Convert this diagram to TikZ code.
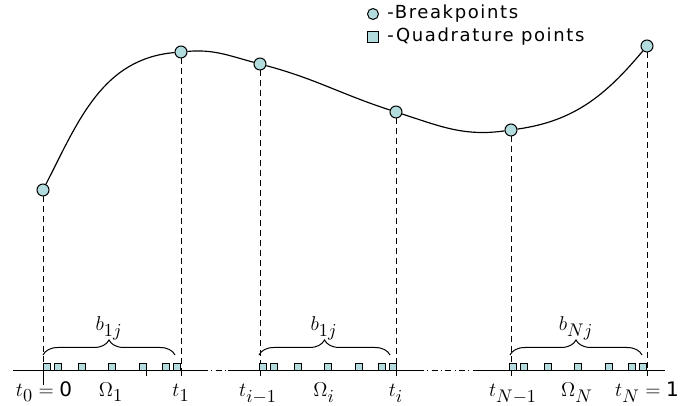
\documentclass[tikz,border=0pt]{standalone}
\usepackage{fontspec}
\setsansfont{DejaVu Sans}
\newfontfamily\legendfont[LetterSpace=9]{DejaVu Sans}
\usepackage{xcolor}
\usepackage{tikz}
\usetikzlibrary{decorations.pathreplacing}
\DeclareMathSizes{12}{12}{10.5}{8}
\definecolor{ptfill}{RGB}{178,220,222}

\begin{document}
\begin{tikzpicture}[
    x=0.6pt,y=0.6pt,
    font={\fontsize{12}{14}\selectfont},
    breakpt/.style={draw,circle,fill=ptfill,inner sep=0pt,minimum size=7.2pt,line width=0.6pt},
    quadpt/.style={draw,rectangle,fill=ptfill,inner sep=0pt,minimum size=4.2pt,line width=0.5pt},
    curve/.style={line width=0.7pt},
    guide/.style={line width=0.6pt,dash pattern=on 3.6pt off 2.4pt},
    axisline/.style={line width=0.6pt},
    gap/.style={line width=0.6pt,dash pattern=on 3.6pt off 2pt on 0.6pt off 2pt},
    bracket/.style={decorate,decoration={brace,amplitude=9pt},line width=0.6pt},
    legendtext/.style={font={\legendfont\fontsize{10.8}{13}\selectfont},anchor=west,inner sep=0pt}
]
\useasboundingbox (0,0) rectangle (681,406);
\coordinate (axisY) at (0,35);
% axis with gaps
\draw[axisline] (13,35) -- (202,35);
\draw[gap] (202,35) -- (228,35);
\draw[axisline] (228,35) -- (418,35);
\draw[gap] (418,35) -- (478,35);
\draw[axisline] (478,35) -- (665,35);
% breakpoints and curve
\node[breakpt] (bp0) at (43,216) {};
\node[breakpt] (bp1) at (181,354) {};
\node[breakpt] (bp2) at (260,342) {};
\node[breakpt] (bp3) at (396,294) {};
\node[breakpt] (bp4) at (511,276) {};
\node[breakpt] (bp5) at (647,360) {};
\draw[curve] (bp0) to[out=63,in=185] (bp1) to[out=5,in=165] (bp2)
    to[out=-15,in=162] (bp3) to[out=-18,in=188] (bp4) to[out=8,in=230] (bp5);
\foreach \b in {bp0,bp1,bp2,bp3,bp4,bp5}
    \draw[guide] (\b) -- (\b |- axisY);
\draw[axisline] (bp0 |- axisY) -- ++(0,-14);
\foreach \b in {bp1,bp2,bp3,bp4,bp5}
    \draw[axisline] (\b |- axisY) -- ++(0,-5);
\draw[axisline] (146,35) -- ++(0,-5);
% quadrature points
\foreach \a/\n in {43/1,259/2,509/3}
    \foreach \d [count=\k] in {3.5,15,39,69,99.5,122.5,134}
        \node[quadpt,anchor=south] (q\n-\k) at (\a+\d,35) {};
% braces
\draw[bracket] (43,51) -- (175,51);
\draw[bracket] (259,51) -- (390,51);
\draw[bracket] (510,51) -- (642,51);
\node[anchor=base] (b1) at (109,75) {$b_{1j}$};
\node[anchor=base] (bi) at (324,75) {$b_{1j}$};
\node[anchor=base] (bN) at (576,75) {$b_{Nj}$};
% labels
\node[anchor=base] (lt0) at (44,9) {$t_0 = \textsf{0}$};
\node[anchor=base] (lom1) at (111,9) {$\Omega_1$};
\node[anchor=base] (lt1) at (181,9) {$t_1$};
\node[anchor=base] (lti1) at (258,9) {$t_{i-1}$};
\node[anchor=base] (lomi) at (324,9) {$\Omega_i$};
\node[anchor=base] (lti) at (396,9) {$t_i$};
\node[anchor=base] (ltN1) at (513,9) {$t_{N-1}$};
\node[anchor=base] (lomN) at (577,9) {$\Omega_N$};
\node[anchor=base] (ltN) at (647,9) {$t_N = \textsf{1}$};
% legend
\node[breakpt,minimum size=6.6pt] (legbp) at (373,392) {};
\node[legendtext] (legbptext) at (387,392) {-Breakpoints};
\node[quadpt,minimum size=6.4pt] (legqp) at (373,369) {};
\node[legendtext] (legqptext) at (387,369) {-Quadrature points};
\end{tikzpicture}
\end{document}
